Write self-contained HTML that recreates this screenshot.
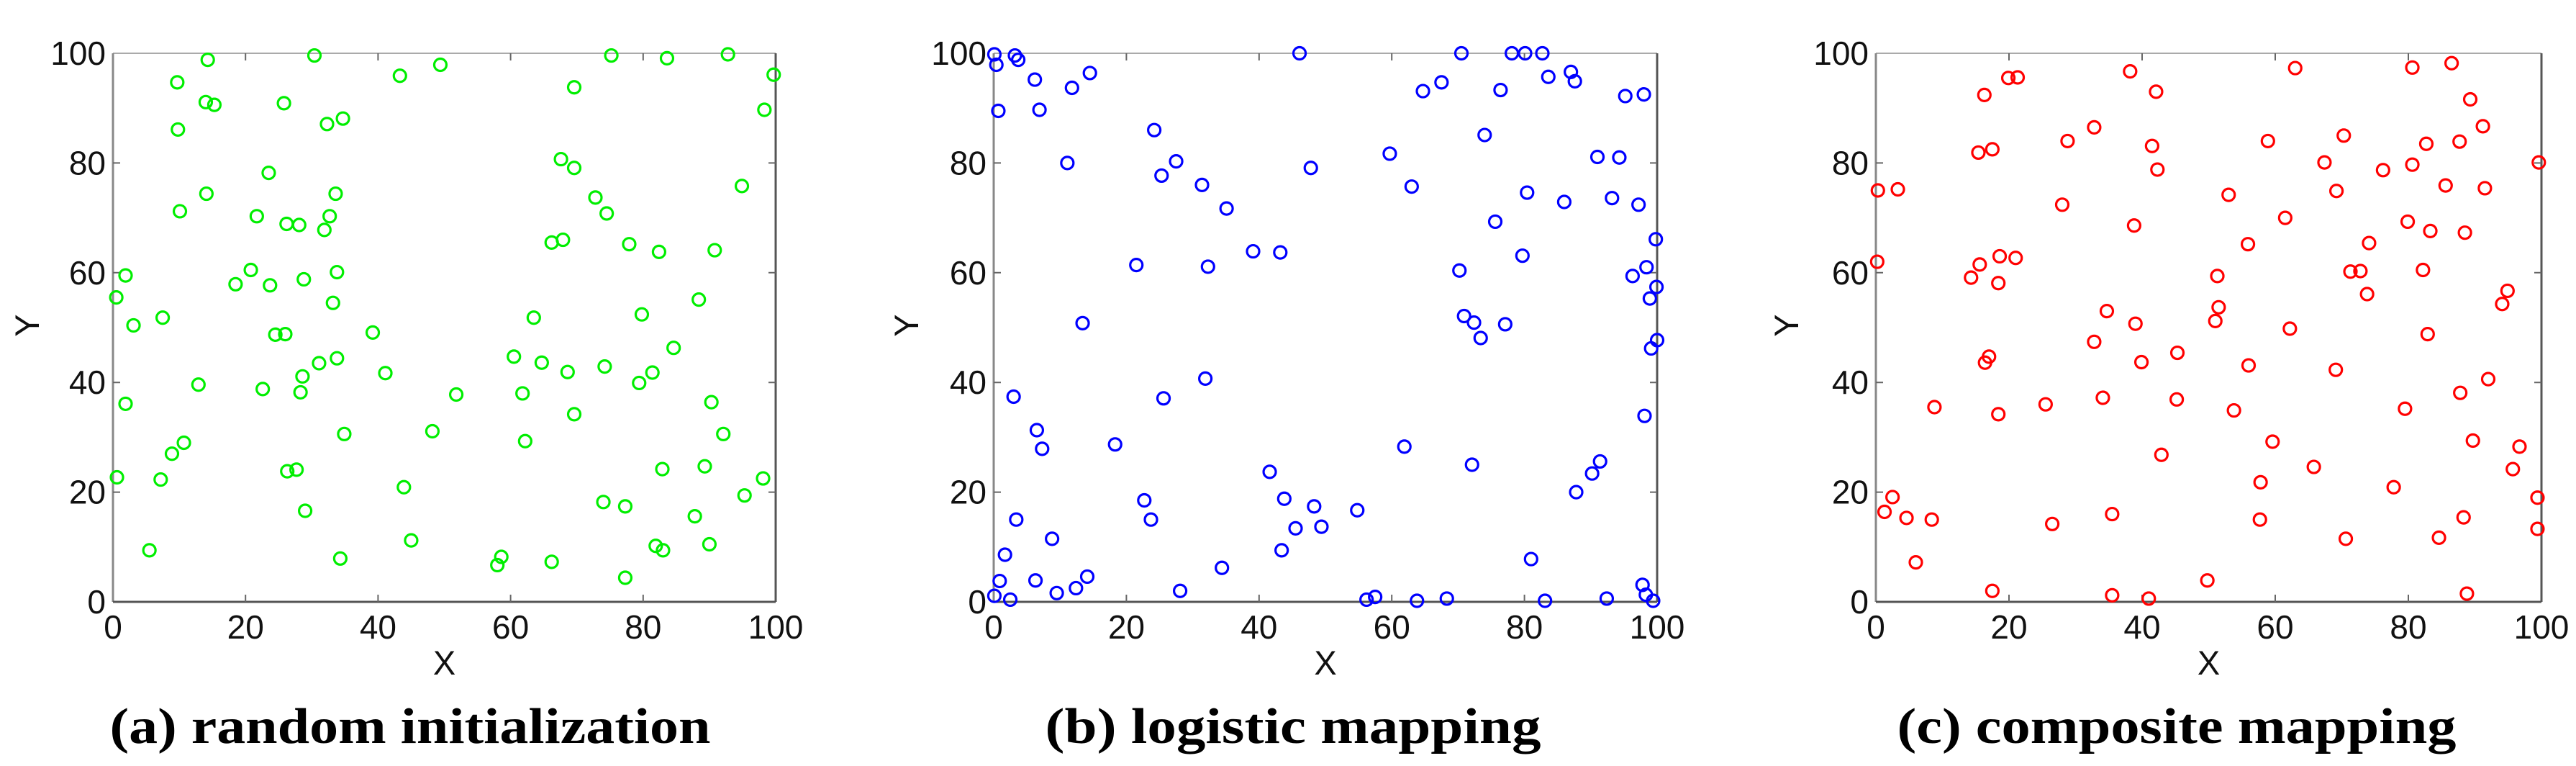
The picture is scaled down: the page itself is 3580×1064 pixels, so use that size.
<!DOCTYPE html>
<html><head><meta charset="utf-8">
<style>
html,body{margin:0;padding:0;background:#fff;}
svg{display:block;}
</style></head>
<body>
<svg id="fig" width="3580" height="1064" viewBox="0 0 3580 1064" xmlns="http://www.w3.org/2000/svg"></svg>
<script>
const tickValues = [0, 20, 40, 60, 80, 100];
const tickLabels = ["0", "20", "40", "60", "80", "100"];
const captions = ["(a) random initialization", "(b) logistic mapping", "(c) composite mapping"];
const colors = ["#00ee00", "#0000ff", "#ff0000"];

const randomX = [14.3,9.7,30.4,14.0,15.3,9.8,25.8,32.3,34.7,43.3,49.4,75.2,83.6,92.8,99.7,98.3,69.6,23.5,14.1,10.1,33.6,21.7,26.2,28.1,32.7,31.9,1.9,0.5,3.1,7.5,18.5,20.8,23.7,28.8,33.8,33.2,24.5,26.0,39.2,67.6,69.6,72.8,74.5,94.9,66.2,67.9,77.9,82.4,90.8,88.4,79.8,84.6,63.5,60.5,64.7,68.6,74.2,81.4,79.4,61.8,51.8,69.6,90.3,92.1,62.2,48.2,41.1,31.1,33.8,28.6,28.3,22.6,12.9,1.9,34.9,10.7,8.9,0.6,7.2,26.3,27.7,29.0,43.9,45.0,34.3,5.5,58.0,58.6,66.2,77.3,74.0,77.3,82.9,89.3,98.1,95.3,87.8,81.9,83.0,90.0];
const randomY = [98.8,94.7,99.6,91.1,90.6,86.1,90.9,87.1,88.1,95.9,97.9,99.6,99.1,99.8,96.1,89.7,93.8,78.2,74.4,71.2,74.4,70.3,68.9,68.7,70.3,67.8,59.5,55.5,50.4,51.8,57.9,60.5,57.7,58.8,60.1,54.5,48.7,48.8,49.1,80.7,79.1,73.7,70.8,75.8,65.5,66.0,65.2,63.8,64.1,55.1,52.4,46.3,51.8,44.7,43.6,41.9,42.9,41.8,39.9,38.0,37.8,34.2,36.4,30.6,29.3,31.1,41.7,43.5,44.4,41.1,38.2,38.8,39.6,36.1,30.6,29.0,27.0,22.7,22.3,23.8,24.1,16.6,20.9,11.2,7.9,9.4,6.7,8.2,7.3,4.4,18.2,17.4,24.2,24.7,22.5,19.4,15.6,10.2,9.4,10.5];

const logisticX = [0.1,0.4,3.2,3.7,0.7,6.2,6.9,11.8,14.5,11.1,24.2,25.3,27.5,31.4,35.1,46.1,47.8,21.5,32.3,39.1,43.2,13.4,59.7,63.0,64.7,67.5,70.5,78.1,80.1,82.7,83.6,87.0,87.6,76.4,74.0,80.4,75.6,79.7,86.0,91.0,94.3,95.2,98.0,93.2,97.2,99.8,98.4,96.3,99.9,98.9,100,99.1,98.1,70.2,70.9,72.4,73.4,77.1,3.0,6.5,7.3,18.3,25.6,31.9,61.9,72.1,91.4,90.2,87.8,41.6,43.8,48.3,49.4,45.5,54.8,43.4,22.7,23.7,3.4,1.7,8.8,0.9,6.3,0.1,2.5,9.5,12.4,14.1,28.1,34.4,56.2,57.5,63.8,68.3,81.0,83.1,92.4,97.8,98.3,99.4];
const logisticY = [99.8,97.9,99.6,98.8,89.5,95.2,89.7,93.7,96.4,80.0,86.0,77.7,80.3,76.0,71.7,100,79.1,61.4,61.1,63.9,63.7,50.8,81.7,75.7,93.1,94.7,100,100,100,100,95.7,96.6,94.9,93.3,85.1,74.6,69.3,63.1,72.9,81.1,81.0,92.2,92.5,73.6,72.4,66.1,61.0,59.4,57.4,55.3,47.7,46.2,33.9,60.4,52.1,50.9,48.1,50.6,37.4,31.3,27.9,28.7,37.1,40.7,28.3,25.0,25.6,23.4,20.0,23.7,18.8,17.4,13.7,13.4,16.7,9.4,18.5,15.0,15.0,8.6,11.5,3.8,3.9,1.1,0.4,1.6,2.5,4.6,2.0,6.2,0.4,0.9,0.2,0.6,7.8,0.2,0.6,3.1,1.3,0.2];

const compositeX = [0.3,3.3,0.2,16.3,19.9,21.3,15.4,17.5,28.8,32.8,38.2,42.1,41.5,42.3,28.0,38.8,15.6,14.3,18.6,21.0,18.4,63.0,58.9,67.4,70.3,69.2,76.2,80.6,86.5,89.3,91.2,82.7,87.7,80.6,85.6,91.5,99.6,53.0,61.5,55.9,51.3,51.5,51.0,62.2,79.9,83.3,88.5,74.1,71.3,72.8,73.8,82.2,94.9,94.1,82.9,34.7,39.0,32.8,39.9,45.3,56.0,69.1,17.0,16.4,8.8,18.4,25.5,34.1,45.2,53.8,79.5,87.8,92.0,89.7,96.7,95.7,59.6,42.9,65.8,57.8,77.8,2.5,1.3,4.6,8.4,6.0,26.5,35.5,57.7,70.6,84.6,88.3,99.4,99.4,17.5,35.5,41.0,49.8,88.8];
const compositeY = [75.0,75.2,62.0,92.4,95.5,95.6,81.9,82.5,84.0,86.5,96.7,93.0,83.1,78.8,72.4,68.6,61.5,59.1,63.0,62.7,58.1,97.3,84.0,80.1,85.0,74.9,78.7,97.4,98.2,91.6,86.7,83.5,83.9,79.7,75.9,75.4,80.1,74.2,70.0,65.2,59.4,53.7,51.2,49.8,69.3,67.6,67.3,65.4,60.2,60.3,56.1,60.5,56.7,54.3,48.8,53.0,50.7,47.4,43.7,45.4,43.1,42.3,44.7,43.6,35.5,34.2,36.0,37.2,36.9,34.9,35.2,38.1,40.6,29.4,28.3,24.2,29.2,26.8,24.6,21.8,20.9,19.1,16.4,15.3,15.0,7.2,14.2,16.0,15.0,11.5,11.7,15.4,19.0,13.3,2.0,1.2,0.6,3.9,1.5];

const seriesX = [randomX, logisticX, compositeX];
const seriesY = [randomY, logisticY, compositeY];

const NS = "http://www.w3.org/2000/svg";
const svg = document.getElementById("fig");
const panels = [
  {x0:157, x1:1078, yl:38, cap:570, name:"random"},
  {x0:1381, x1:2303, yl:1260, cap:1797, name:"logistic"},
  {x0:2607, x1:3532, yl:2483, cap:3025, name:"composite"}
];
const capLens = [835, 689, 777];
const yTop = 74, yBot = 836;

function mk(tag, attrs, parent){
  const e = document.createElementNS(NS, tag);
  for (const k in attrs) e.setAttribute(k, attrs[k]);
  parent.appendChild(e);
  return e;
}

panels.forEach((p, i) => {
  const g = mk("g", {}, svg);
  
  
  const sx = v => p.x0 + (p.x1 - p.x0) * v / 100;
  const sy = v => yBot - (yBot - yTop) * v / 100;

  // box
  const top = mk("line", {x1:p.x0, y1:yTop, x2:p.x1, y2:yTop, stroke:"#aaa", "stroke-width":2}, g);
  
  
  const right = mk("line", {x1:p.x1, y1:yTop, x2:p.x1, y2:yBot, stroke:"#555", "stroke-width":3}, g);
  
  
  const yax = mk("line", {x1:p.x0, y1:yTop, x2:p.x0, y2:yBot, stroke:"#888", "stroke-width":3}, g);
  
  
  const xax = mk("line", {x1:p.x0, y1:yBot, x2:p.x1, y2:yBot, stroke:"#555", "stroke-width":3}, g);
  
  

  tickValues.forEach((t, k) => {
    const X = sx(t), Y = sy(t);
    if (t > 0 && t < 100) {
      const tk = mk("path", {d:`M${X},${yBot}v-10M${X},${yTop}v10M${p.x0},${Y}h10M${p.x1},${Y}h-10`, stroke:"#666", "stroke-width":2, fill:"none"}, g);
      
      
    }
    const xl = mk("text", {x:X, y:887, "text-anchor":"middle", "font-size":46, "font-family":"Liberation Sans, sans-serif", fill:"#111"}, g);
    xl.textContent = tickLabels[k];
    
    
    const yl = mk("text", {x:p.x0 - 10, y:Y + 16, "text-anchor":"end", "font-size":46, "font-family":"Liberation Sans, sans-serif", fill:"#111"}, g);
    yl.textContent = tickLabels[k];
    
    
  });

  const xt = mk("text", {x:(p.x0 + p.x1) / 2, y:937, "text-anchor":"middle", "font-size":47, "font-family":"Liberation Sans, sans-serif", fill:"#111"}, g);
  xt.textContent = "X";
  
  
  const yt = mk("text", {x:p.yl + 16, y:452, "text-anchor":"middle", "font-size":47, "font-family":"Liberation Sans, sans-serif", fill:"#111", transform:`rotate(-90 ${p.yl + 16} 452)`}, g);
  yt.textContent = "Y";
  
  

  const xs = seriesX[i], ys = seriesY[i];
  for (let j = 0; j < xs.length; j++) {
    const c = mk("circle", {cx:sx(xs[j]), cy:sy(ys[j]), r:8.5, fill:"none", stroke:colors[i], "stroke-width":3.2}, g);
    
    
  }

  const cap = mk("text", {x:p.cap, y:1032, "text-anchor":"middle", "font-size":70, "font-weight":"bold", "font-family":"Liberation Serif, serif", fill:"#000", textLength:capLens[i], lengthAdjust:"spacingAndGlyphs"}, g);
  cap.textContent = captions[i];
  
  
});
</script>
</body></html>
